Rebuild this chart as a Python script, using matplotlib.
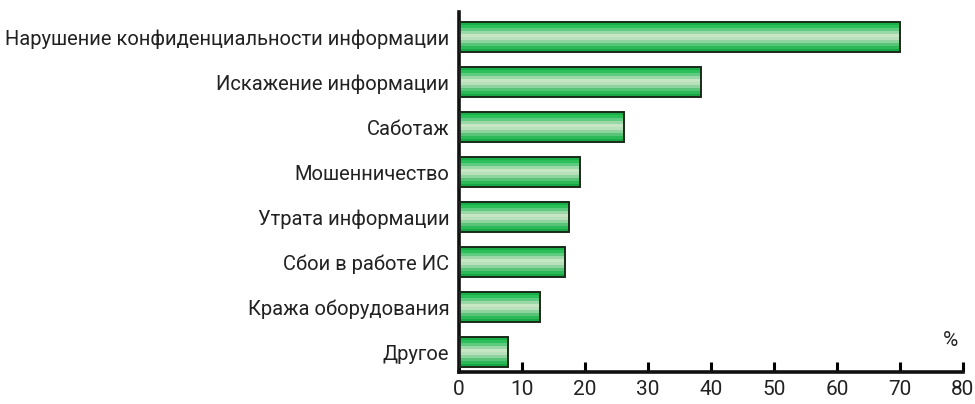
import matplotlib
matplotlib.use("Agg")
import matplotlib.pyplot as plt

categories = ["Нарушение конфиденциальности информации", "Искажение информации", "Саботаж",
              "Мошенничество", "Утрата информации", "Сбои в работе ИС",
              "Кража оборудования", "Другое"]
values = [70, 38.4, 26.2, 19.2, 17.5, 16.9, 12.9, 7.8]
xticks = [0, 10, 20, 30, 40, 50, 60, 70, 80]

plt.rcParams['font.family'] = ['Roboto', 'DejaVu Sans']

fig = plt.figure(figsize=(9.75, 4.04), dpi=100)
ax = fig.add_axes([459/975, 1-372/404, (963-459)/975, (372-12)/404])

band_colors = ["#18b048", "#2cc05a", "#5fcb80", "#9bd8a8", "#c6e6c4", "#b8e0ba",
               "#8fd39f", "#58c477", "#2cba58", "#17a845"]
h = 0.667
n = len(band_colors)
pos = list(range(len(categories)))
for i, v in enumerate(values):
    for k, c in enumerate(band_colors):
        y0 = i - h/2 + k*h/n
        ax.barh(y0, v, height=h/n, align='edge', color=c, linewidth=0, zorder=2)
    ax.barh(i, v, height=h, color='none', edgecolor='#1a2a1a', linewidth=1.4, zorder=3)

ax.set_xlim(0, 80)
ax.set_ylim(len(categories) - 1 + 0.444, -0.556)
ax.set_yticks(pos)
ax.set_yticklabels(categories, fontsize=14.5, color='#222222')
ax.tick_params(axis='y', length=0, pad=7)
ax.set_xticks(xticks)
ax.set_xticklabels([str(t) for t in xticks], fontsize=15, color='#222222')
ax.tick_params(axis='x', direction='in', length=7, width=2.2, pad=6)
for s in ['top', 'right']:
    ax.spines[s].set_visible(False)
for s in ['left', 'bottom']:
    ax.spines[s].set_linewidth(2.6)
    ax.spines[s].set_color('#111111')
ax.text(78.0, 6.75, "%", fontsize=15, ha='center', va='center', color='#222222')

fig.savefig("out.png", dpi=100)
